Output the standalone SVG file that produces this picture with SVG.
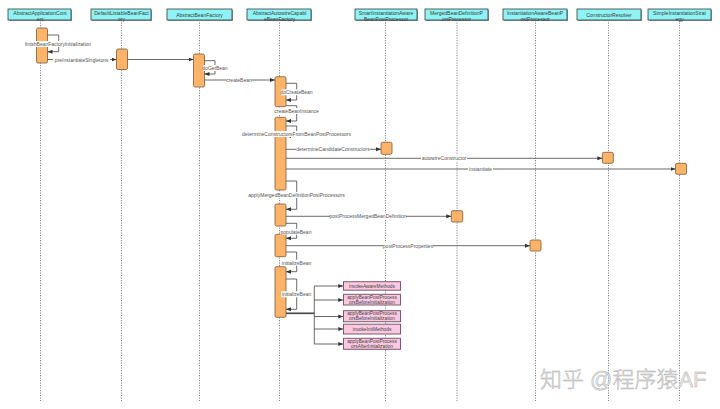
<svg xmlns="http://www.w3.org/2000/svg" width="720" height="409" viewBox="0 0 720 409">
<defs>
<marker id="ah" viewBox="0 0 10 10" refX="10" refY="5" markerWidth="5" markerHeight="5" orient="auto" markerUnits="userSpaceOnUse">
<path d="M0,1 L10,5 L0,9 z" fill="#333"/>
</marker>
</defs>
<style>
text{font-family:"Liberation Sans",Arial,sans-serif}
.hd rect.b{fill:#8cf4f4;stroke:#3a3a3a;stroke-width:0.8}
.hd rect.s{fill:#999}
.ht{font-size:5px;fill:#3a3a3a;text-anchor:middle;dominant-baseline:central}
.life{stroke:#555;stroke-width:0.7;stroke-dasharray:1.2,1.3;fill:none}
.act{fill:#ffb366;stroke:#7a5a3a;stroke-width:0.8}
.msg{stroke:#444;stroke-width:0.8;fill:none}
.lb{fill:#fff}
.lt{font-size:5px;fill:#555;text-anchor:middle;dominant-baseline:central}
.pk{fill:#fbc8e0;stroke:#7a5a70;stroke-width:1}
.pt{font-size:4.8px;fill:#444;text-anchor:middle;dominant-baseline:central}
</style>
<rect width="720" height="409" fill="#fff"/>

<!-- lifelines -->
<g id="lifelines">
<line class="life" x1="40.5" y1="20" x2="40.5" y2="401"/>
<line class="life" x1="121.5" y1="20" x2="121.5" y2="401"/>
<line class="life" x1="199.5" y1="20" x2="199.5" y2="401"/>
<line class="life" x1="279.5" y1="20" x2="279.5" y2="401"/>
<line class="life" x1="385.5" y1="20" x2="385.5" y2="401"/>
<line class="life" x1="457" y1="20" x2="457" y2="401"/>
<line class="life" x1="535.5" y1="20" x2="535.5" y2="401"/>
<line class="life" x1="608.5" y1="20" x2="608.5" y2="401"/>
<line class="life" x1="679.5" y1="20" x2="679.5" y2="401"/>
</g>

<!-- headers -->
<g id="h1" class="hd"><rect class="s" x="9" y="10" width="63" height="11"/><rect class="b" x="8" y="9" width="63" height="11"/><text class="ht" x="40" y="13.2">AbstractApplicationCont</text><text class="ht" x="40" y="18.6">ext</text></g>
<g id="h2" class="hd"><rect class="s" x="92" y="10" width="60" height="11"/><rect class="b" x="91" y="9" width="60" height="11"/><text class="ht" x="121.5" y="13.2">DefaultListableBeanFact</text><text class="ht" x="121.5" y="18.6">ory</text></g>
<g id="h3" class="hd"><rect class="s" x="168" y="10" width="65" height="11"/><rect class="b" x="167" y="9" width="65" height="11"/><text class="ht" x="199.5" y="14.6">AbstractBeanFactory</text></g>
<g id="h4" class="hd"><rect class="s" x="248" y="10" width="64" height="11"/><rect class="b" x="247" y="9" width="64" height="11"/><text class="ht" x="279.5" y="13.2">AbstractAutowireCapabl</text><text class="ht" x="279.5" y="18.6">eBeanFactory</text></g>
<g id="h5" class="hd"><rect class="s" x="356" y="10" width="62" height="11"/><rect class="b" x="355" y="9" width="62" height="11"/><text class="ht" x="386" y="13.2">SmartInstantiationAware</text><text class="ht" x="386" y="18.6">BeanPostProcessor</text></g>
<g id="h6" class="hd"><rect class="s" x="426" y="10" width="63" height="11"/><rect class="b" x="425" y="9" width="63" height="11"/><text class="ht" x="456.5" y="13.2">MergedBeanDefinitionP</text><text class="ht" x="456.5" y="18.6">ostProcessor</text></g>
<g id="h7" class="hd"><rect class="s" x="504" y="10" width="64" height="11"/><rect class="b" x="503" y="9" width="64" height="11"/><text class="ht" x="535" y="13.2">InstantiationAwareBeanP</text><text class="ht" x="535" y="18.6">ostProcessor</text></g>
<g id="h8" class="hd"><rect class="s" x="578" y="10" width="64" height="11"/><rect class="b" x="577" y="9" width="64" height="11"/><text class="ht" x="609" y="14.6">ConstructorResolver</text></g>
<g id="h9" class="hd"><rect class="s" x="649" y="10" width="63" height="11"/><rect class="b" x="648" y="9" width="63" height="11"/><text class="ht" x="679.5" y="13.2">SimpleInstantiationStrat</text><text class="ht" x="679.5" y="18.6">egy</text></g>

<!-- activations -->
<g id="activations">
<rect class="act" x="36.5" y="28" width="11" height="35" rx="1.5"/>
<rect class="act" x="116.5" y="49" width="11" height="20.5" rx="1.5"/>
<rect class="act" x="193.5" y="54" width="11" height="33" rx="1.5"/>
<rect class="act" x="275" y="76.7" width="11" height="30" rx="1.5"/>
<rect class="act" x="275" y="117.3" width="11" height="72.7" rx="1.5"/>
<rect class="act" x="275" y="204" width="11" height="22" rx="1.5"/>
<rect class="act" x="275" y="234.3" width="11" height="22.4" rx="1.5"/>
<rect class="act" x="275" y="266.7" width="11" height="50.6" rx="1.5"/>
<rect class="act" x="381" y="142.3" width="11" height="12" rx="1.5"/>
<rect class="act" x="602.3" y="152.3" width="11" height="11" rx="1.5"/>
<rect class="act" x="675.5" y="163.3" width="11" height="11" rx="1.5"/>
<rect class="act" x="451.3" y="210.7" width="11.4" height="11.3" rx="1.5"/>
<rect class="act" x="530" y="240" width="11" height="11" rx="1.5"/>
</g>

<!-- connectors -->
<g id="connectors">
<path class="msg" d="M47.5,35 H58.7 V51.7 H47.5" marker-end="url(#ah)"/>
<path class="msg" d="M47.5,59.5 H116.5" marker-end="url(#ah)"/>
<path class="msg" d="M127.5,59.5 H193.5" marker-end="url(#ah)"/>
<path class="msg" d="M204.5,60.7 H215 V74 H204.5" marker-end="url(#ah)"/>
<path class="msg" d="M204.5,80 H275" marker-end="url(#ah)"/>
<path class="msg" d="M286,83.3 H296.7 V100 H286" marker-end="url(#ah)"/>
<path class="msg" d="M286,105.7 H296.7 V121 H286" marker-end="url(#ah)"/>
<path class="msg" d="M286,126 H296.7 V136 H286" marker-end="url(#ah)"/>
<path class="msg" d="M286,149.3 H381" marker-end="url(#ah)"/>
<path class="msg" d="M286,158.3 H602.3" marker-end="url(#ah)"/>
<path class="msg" d="M286,169 H675.5" marker-end="url(#ah)"/>
<path class="msg" d="M286,181 H296.7 V209.3 H286" marker-end="url(#ah)"/>
<path class="msg" d="M286,216.3 H451.3" marker-end="url(#ah)"/>
<path class="msg" d="M286,223.3 H296.7 V238.3 H286" marker-end="url(#ah)"/>
<path class="msg" d="M286,245.7 H530" marker-end="url(#ah)"/>
<path class="msg" d="M286,252 H296.7 V271.7 H286" marker-end="url(#ah)"/>
<path class="msg" d="M286,279 H296.7 V309.3 H286" marker-end="url(#ah)"/>
<path class="msg" d="M286,313.3 H314.3" style="stroke-width:1.6"/>
<path class="msg" d="M314.3,286 V344"/>
<path class="msg" d="M314.3,286 H343.3" marker-end="url(#ah)"/>
<path class="msg" d="M314.3,300 H343.3" marker-end="url(#ah)"/>
<path class="msg" d="M314.3,316.5 H343.3" marker-end="url(#ah)"/>
<path class="msg" d="M314.3,329 H343.3" marker-end="url(#ah)"/>
<path class="msg" d="M314.3,344 H343.3" marker-end="url(#ah)"/>
</g>

<!-- labels -->
<g id="labels">
<rect class="lb" x="25" y="41" width="66" height="6"/><text class="lt" x="58" y="44">finishBeanFactoryInitialization</text>
<rect class="lb" x="53" y="56.5" width="57" height="6"/><text class="lt" x="81.7" y="59.5">preInstantiateSingletons</text>
<rect class="lb" x="203" y="65" width="24" height="6"/><text class="lt" x="215" y="68">doGetBean</text>
<rect class="lb" x="226.5" y="77" width="25" height="6"/><text class="lt" x="239" y="80">createBean</text>
<rect class="lb" x="281" y="89.3" width="31" height="6"/><text class="lt" x="296.5" y="92.3">doCreateBean</text>
<rect class="lb" x="275" y="108" width="44" height="6"/><text class="lt" x="296.5" y="111">createBeanInstance</text>
<rect class="lb" x="243" y="131" width="107" height="6"/><text class="lt" x="296.5" y="134">determineConstructorsFromBeanPostProcessors</text>
<rect class="lb" x="296" y="146.3" width="74" height="6"/><text class="lt" x="333" y="149.3">determineCandidateConstructors</text>
<rect class="lb" x="421" y="155.3" width="46" height="6"/><text class="lt" x="444" y="158.3">autowireConstructor</text>
<rect class="lb" x="468" y="166" width="25" height="6"/><text class="lt" x="480.5" y="169">instantiate</text>
<rect class="lb" x="248" y="192" width="97" height="6"/><text class="lt" x="296.5" y="195">applyMergedBeanDefinitionPostProcessors</text>
<rect class="lb" x="330" y="213.3" width="76" height="6"/><text class="lt" x="368" y="216.3">postProcessMergedBeanDefinition</text>
<rect class="lb" x="280" y="228.7" width="33" height="6"/><text class="lt" x="296" y="231.7">populateBean</text>
<rect class="lb" x="383" y="242.7" width="50" height="6"/><text class="lt" x="408" y="245.7">postProcessProperties</text>
<rect class="lb" x="281" y="259.7" width="31" height="6"/><text class="lt" x="296.5" y="262.7">initializeBean</text>
<rect class="lb" x="281" y="291.3" width="31" height="6"/><text class="lt" x="296.5" y="294.3">initializeBean</text>
</g>

<!-- pink boxes -->
<g id="p1"><rect class="pk" x="343.5" y="281.7" width="57" height="8.5"/><text class="pt" x="372" y="286">invokeAwareMethods</text></g>
<g id="p2"><rect class="pk" x="343.5" y="294.3" width="57" height="10.7"/><text class="pt" x="372" y="297.4">applyBeanPostProcess</text><text class="pt" x="372" y="302.2">orsBeforeInitialization</text></g>
<g id="p3"><rect class="pk" x="343.5" y="310.7" width="57" height="11"/><text class="pt" x="372" y="313.8">applyBeanPostProcess</text><text class="pt" x="372" y="318.7">orsBeforeInitialization</text></g>
<g id="p4"><rect class="pk" x="343.5" y="324.2" width="57" height="9.8"/><text class="pt" x="372" y="329">invokeInitMethods</text></g>
<g id="p5"><rect class="pk" x="343.5" y="338.3" width="57" height="11"/><text class="pt" x="372" y="341.4">applyBeanPostProcess</text><text class="pt" x="372" y="346.3">orsAfterInitialization</text></g>

<text x="540" y="386.5" font-size="22" fill="#e6e6e6" stroke="#b0b0b0" stroke-width="0.45" style="font-family:'Liberation Sans','Noto Sans CJK SC',sans-serif;font-weight:300">知乎 @程序猿AF</text>
</svg>
